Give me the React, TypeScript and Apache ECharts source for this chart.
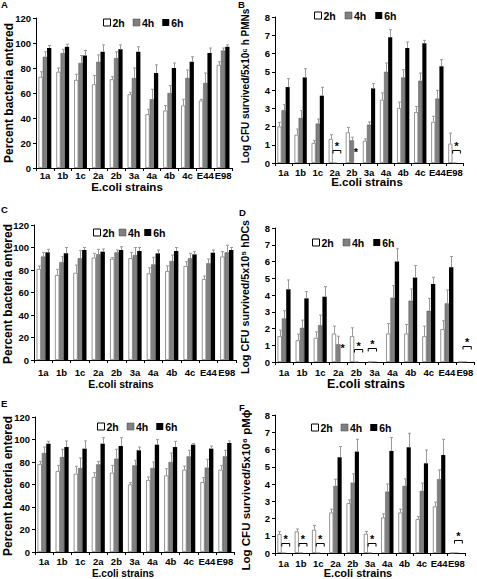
import React, { useEffect, useRef } from 'react';
import * as echarts from 'echarts';

const strains = ['1a', '1b', '1c', '2a', '2b', '3a', '4a', '4b', '4c', 'E44', 'E98'];
const timePoints = ['2h', '4h', '6h'];

// Panel A – Percent bacteria entered (mean and upper end of error bar)
const aMean2h = [73, 77, 70.5, 67, 71, 59, 43, 46, 50, 54, 82.5];
const aMean4h = [89, 92, 84, 85, 88, 72, 55, 60, 72, 68, 94];
const aMean6h = [96, 97, 90, 93, 95, 93, 76, 80, 85, 92, 97];
const aUpper2h = [77, 80, 75, 74, 73, 60.5, 47, 50, 55, 55, 85];
const aUpper4h = [93, 95, 90, 90.5, 93, 80, 63, 66, 78.5, 76, 96];
const aUpper6h = [98, 99, 94, 98.5, 98.5, 97, 82.5, 84, 89, 96, 98.5];

// Panel B – Log CFU survived / 5x10^6 h PMNs
const bMean2h = [2.0, 1.55, 1.1, 1.32, 1.68, 1.22, 3.47, 3.01, 2.79, 2.26, 1.06];
const bMean4h = [2.89, 2.47, 2.16, 0, 1.24, 2.1, 5.0, 4.69, 4.51, 3.53, 0];
const bMean6h = [4.16, 4.69, 3.69, 0, 0, 4.09, 6.89, 6.3, 6.56, 5.3, 0];
const bUpper2h = [2.23, 1.86, 1.24, 1.55, 1.95, 1.32, 3.84, 3.34, 3.1, 2.56, 1.64];
const bUpper4h = [3.2, 2.87, 2.41, null, 1.41, 2.25, 5.48, 5.11, 4.93, 3.98, null];
const bUpper6h = [4.62, 5.17, 4.15, null, null, 4.35, 7.3, 6.63, 6.72, 5.66, null];
// significance marks: [strain index, first slot, last slot, bracket height (-1 = none), star height]
const bSig = [[3, 1, 2, 0.7, 1.08], [4, 2, 2, -1, 0.77], [10, 1, 2, 0.7, 1.08]];

// Panel C – Percent bacteria entered
const cMean2h = [81, 75.5, 77.5, 91, 90, 90.5, 77, 79, 83.5, 72, 92];
const cMean4h = [92, 87, 90.5, 94, 95.7, 93.3, 85, 88, 90.4, 86, 95.7];
const cMean6h = [95.7, 94.8, 97.8, 96.3, 97.8, 96.9, 94.8, 96.9, 93.9, 95.4, 97.8];
const cUpper2h = [83.6, 80.6, 84.4, 94.8, 91, 95.7, 82, 83.6, 87.4, 74.7, 96.3];
const cUpper4h = [95.7, 91.9, 97.2, 98.4, 97.8, 100, 91.3, 93.3, 94.8, 89.8, 102];
const cUpper6h = [98.4, 100, 100, 98.7, 100.7, 100, 97.8, 100, 96.3, 97.8, 100];

// Panel D – Log CFU survived / 5x10^5 hDCs
const dMean2h = [1.54, 1.3, 1.44, 1.7, 1.54, 0, 1.7, 1.7, 1.54, 1.96, 0];
const dMean4h = [2.6, 2.04, 2.2, 1.06, 0, 0, 3.84, 3.66, 3.06, 3.5, 0];
const dMean6h = [4.34, 3.8, 3.9, 0, 0, 0, 6.0, 5.04, 4.66, 5.66, 0];
const dUpper2h = [1.9, 1.66, 1.8, 2.14, 2.04, null, 2.3, 2.24, 2.14, 2.46, null];
const dUpper4h = [3.06, 2.5, 2.8, 1.54, null, null, 4.56, 4.36, 3.8, 4.3, null];
const dUpper6h = [4.9, 4.2, 4.5, null, null, null, 6.76, 5.76, 5.06, 6.3, null];
const dSig = [[3, 2, 2, -1, 1.0], [4, 1, 2, 0.76, 1.15], [5, 0, 1, 0.82, 1.27], [10, 1, 2, 0.95, 1.35]];

// Panel E – Percent bacteria entered
const eMean2h = [78.2, 72, 69.6, 66.7, 70.5, 60.1, 64, 68.1, 73.2, 62.2, 73.2];
const eMean4h = [88, 84.4, 74.7, 77.9, 83, 77, 74.7, 80, 85, 75, 85];
const eMean6h = [96.3, 93.3, 91.9, 96.3, 94.2, 90.4, 95.4, 93.3, 95.4, 91.9, 96.9];
const eUpper2h = [80.6, 77, 76.1, 70.5, 77, 61.6, 66.7, 74, 76.4, 66.1, 77];
const eUpper4h = [93.3, 91.3, 83.6, 80.6, 91.3, 81.5, 80, 88, 90.4, 82.4, 90.4];
const eUpper6h = [98.4, 98.7, 98.7, 101.6, 101.6, 93.3, 99.9, 98.4, 96.3, 94.2, 98.7];

// Panel F – Log CFU survived / 5x10^6 pMϕ
const fMean2h = [1.1, 1.25, 1.35, 2.35, 2.89, 1.12, 2.06, 2.35, 1.97, 2.7, 0];
const fMean4h = [0, 0, 0, 3.89, 4.08, 0, 3.56, 3.89, 3.6, 4.28, 0];
const fMean6h = [0, 0, 0, 5.55, 5.88, 0, 5.92, 6.13, 5.2, 5.68, 0];
const fUpper2h = [1.25, 1.39, 1.6, 2.54, 3.08, 1.25, 2.27, 2.54, 2.12, 2.95, null];
const fUpper4h = [null, null, null, 4.28, 4.59, null, 4.0, 4.3, 4.05, 4.82, null];
const fUpper6h = [null, null, null, 6.17, 6.59, null, 6.69, 6.94, 5.97, 6.59, null];
const fSig = [[0, 1, 2, 0.58, 0.96], [1, 1, 2, 0.58, 0.96], [2, 1, 2, 0.58, 0.96], [5, 1, 2, 0.58, 0.96], [10, 1, 2, 0.77, 1.15]];

const FONT = '"Liberation Sans", Arial, Helvetica, sans-serif';
const BAR_FRAC = 0.24;
const ERR = '#9a9a9a';

type Panel = {
  letter: string;
  means: number[][];
  uppers: (number | null)[][];
  sig: number[][];
  max: number;
  interval: number;
  yName: string;
  grid: { left: number; top: number; width: number; height: number };
  labelMargin: number;
  legend: { left: number; top: number; gap: number };
  letterPos: [number, number];
  yNamePos: [number, number, number];
  xNamePos: [number, number, number];
};

const panels: Panel[] = [
  {
    letter: 'A', means: [aMean2h, aMean4h, aMean6h], uppers: [aUpper2h, aUpper4h, aUpper6h], sig: [],
    max: 120, interval: 20, yName: 'Percent bacteria entered',
    grid: { left: 36, top: 18, width: 196, height: 150 }, labelMargin: 2,
    legend: { left: 103, top: 17, gap: 8 }, letterPos: [1, 4.5], yNamePos: [8.5, 93, 12], xNamePos: [127, 187, 11.5],
  },
  {
    letter: 'B', means: [bMean2h, bMean4h, bMean6h], uppers: [bUpper2h, bUpper4h, bUpper6h], sig: bSig,
    max: 8, interval: 1, yName: 'Log CFU survived/5x10\u2076 h PMNs',
    grid: { left: 275, top: 17, width: 188, height: 146 }, labelMargin: 4,
    legend: { left: 314, top: 10, gap: 9 }, letterPos: [238, 4.5], yNamePos: [245, 86, 10], xNamePos: [367, 182, 11.5],
  },
  {
    letter: 'C', means: [cMean2h, cMean4h, cMean6h], uppers: [cUpper2h, cUpper4h, cUpper6h], sig: [],
    max: 120, interval: 20, yName: 'Percent bacteria entered',
    grid: { left: 34, top: 225, width: 202, height: 135 }, labelMargin: 7,
    legend: { left: 93, top: 227, gap: 4 }, letterPos: [1, 209], yNamePos: [8, 294, 12], xNamePos: [121, 384, 10.5],
  },
  {
    letter: 'D', means: [dMean2h, dMean4h, dMean6h], uppers: [dUpper2h, dUpper4h, dUpper6h], sig: dSig,
    max: 8, interval: 1, yName: 'Log CFU survived/5x10\u2075 hDCs',
    grid: { left: 275, top: 228, width: 199, height: 134 }, labelMargin: 5,
    legend: { left: 312, top: 237, gap: 9 }, letterPos: [239, 212], yNamePos: [245, 297, 10.7], xNamePos: [366, 384, 12.5],
  },
  {
    letter: 'E', means: [eMean2h, eMean4h, eMean6h], uppers: [eUpper2h, eUpper4h, eUpper6h], sig: [],
    max: 120, interval: 20, yName: 'Percent bacteria entered',
    grid: { left: 35, top: 417, width: 199, height: 135 }, labelMargin: 4,
    legend: { left: 97, top: 421, gap: 8 }, letterPos: [1, 403], yNamePos: [8, 486, 12], xNamePos: [123, 573.5, 10],
  },
  {
    letter: 'F', means: [fMean2h, fMean4h, fMean6h], uppers: [fUpper2h, fUpper4h, fUpper6h], sig: fSig,
    max: 8, interval: 1, yName: 'Log CFU survived/5x10\u2076 pM\u03d5',
    grid: { left: 275, top: 415, width: 190, height: 138 }, labelMargin: 5,
    legend: { left: 311, top: 422, gap: 8 }, letterPos: [239, 407], yNamePos: [245.5, 490, 11.5], xNamePos: [358, 573, 11],
  },
];

const barStyles = [
  { color: '#ffffff', borderColor: '#7a7a7a', borderWidth: 0.8 },
  { color: '#808080', borderColor: '#555555', borderWidth: 0.5 },
  { color: '#000000', borderColor: '#000000', borderWidth: 0 },
];
const legendStyles = [
  { color: '#ffffff', borderColor: '#000000', borderWidth: 1 },
  { color: '#808080', borderColor: '#404040', borderWidth: 0.5 },
  { color: '#000000', borderColor: '#000000', borderWidth: 0 },
];

function buildOption() {
  const grid: any[] = [];
  const xAxis: any[] = [];
  const yAxis: any[] = [];
  const series: any[] = [];
  const legend: any[] = [];
  const graphic: any[] = [];

  panels.forEach((p, gi) => {
    grid.push({ ...p.grid, containLabel: false, outerBoundsMode: 'none' });
    xAxis.push({
      type: 'category', gridIndex: gi, data: strains, boundaryGap: true,
      axisLine: { show: true, lineStyle: { color: '#000', width: 1 } },
      axisTick: { show: true, length: 3, lineStyle: { color: '#000' } },
      axisLabel: { interval: 0, margin: p.labelMargin, fontSize: 9.5, fontWeight: 'bold', color: '#000', fontFamily: FONT },
      splitLine: { show: false },
    });
    yAxis.push({
      type: 'value', gridIndex: gi, min: 0, max: p.max, interval: p.interval,
      axisLine: { show: true, lineStyle: { color: '#000', width: 1 } },
      axisTick: { show: true, length: 3, lineStyle: { color: '#000' } },
      axisLabel: { margin: 5, fontSize: 9.5, fontWeight: 'bold', color: '#000', fontFamily: FONT },
      splitLine: { show: false },
    });
    timePoints.forEach((t, s) => {
      series.push({
        type: 'bar', name: t, xAxisIndex: gi, yAxisIndex: gi, data: p.means[s],
        barGap: '0%', barCategoryGap: '28%', itemStyle: barStyles[s], silent: true,
      });
    });
    const errData: number[][] = [];
    for (let s = 0; s < 3; s++) {
      for (let i = 0; i < strains.length; i++) {
        const u = p.uppers[s][i];
        if (u != null) errData.push([i, s, p.means[s][i], u]);
      }
    }
    series.push({
      type: 'custom', xAxisIndex: gi, yAxisIndex: gi, data: errData, z: 5, silent: true,
      encode: { x: 0, y: 3 },
      renderItem: (_params: any, api: any) => {
        const i = api.value(0);
        const s = api.value(1);
        const base = api.coord([i, api.value(2)]);
        const top = api.coord([i, api.value(3)]);
        const bw = api.size([1, 0])[0] * BAR_FRAC;
        const x = Math.round(base[0] + (s - 1) * bw) + 0.5;
        return {
          type: 'group',
          children: [
            { type: 'line', shape: { x1: x, y1: base[1], x2: x, y2: top[1] }, style: { stroke: ERR, lineWidth: 1 } },
            { type: 'line', shape: { x1: x - 1.5, y1: top[1], x2: x + 1.5, y2: top[1] }, style: { stroke: ERR, lineWidth: 1 } },
          ],
        };
      },
    });
    if (p.sig.length) {
      series.push({
        type: 'custom', xAxisIndex: gi, yAxisIndex: gi, data: p.sig, z: 6, silent: true,
        encode: { x: 0, y: 4 },
        renderItem: (_params: any, api: any) => {
          const i = api.value(0);
          const s0 = api.value(1);
          const s1 = api.value(2);
          const by = api.value(3);
          const sy = api.value(4);
          const bw = api.size([1, 0])[0] * BAR_FRAC;
          const c = api.coord([i, sy]);
          const x0 = c[0] + (s0 - 1) * bw - bw * 0.45;
          const x1 = c[0] + (s1 - 1) * bw + bw * 0.45;
          const children: any[] = [
            {
              type: 'text', x: (x0 + x1) / 2, y: c[1] + 3,
              style: { text: '*', font: `bold 11px ${FONT}`, textAlign: 'center', textVerticalAlign: 'middle', fill: '#000' },
            },
          ];
          if (by >= 0) {
            const yb = Math.round(api.coord([i, by])[1]) + 0.5;
            children.push({
              type: 'polyline',
              shape: { points: [[x0, yb + 3], [x0, yb], [x1, yb], [x1, yb + 3]] },
              style: { stroke: '#000', lineWidth: 1, fill: null },
            });
          }
          return { type: 'group', children };
        },
      });
    }
    legend.push({
      left: p.legend.left, top: p.legend.top, itemGap: p.legend.gap, itemWidth: 7, itemHeight: 7,
      padding: 0, selectedMode: false, icon: 'rect',
      data: timePoints.map((t, s) => ({ name: t, icon: 'rect', itemStyle: legendStyles[s] })),
      textStyle: { fontSize: 10.5, fontWeight: 'bold', color: '#000', fontFamily: FONT, padding: [0, 0, 0, -3] },
    });
    graphic.push({
      type: 'text', x: p.letterPos[0], y: p.letterPos[1],
      style: { text: p.letter, font: `bold 9.5px ${FONT}`, textAlign: 'left', textVerticalAlign: 'middle', fill: '#000' },
    });
    graphic.push({
      type: 'text', x: p.yNamePos[0], y: p.yNamePos[1], rotation: Math.PI / 2,
      style: { text: p.yName, font: `bold ${p.yNamePos[2]}px ${FONT}`, textAlign: 'center', textVerticalAlign: 'middle', fill: '#000' },
    });
    graphic.push({
      type: 'text', x: p.xNamePos[0], y: p.xNamePos[1],
      style: { text: 'E.coli strains', font: `bold ${p.xNamePos[2]}px ${FONT}`, textAlign: 'center', textVerticalAlign: 'middle', fill: '#000' },
    });
  });

  return { animation: false, backgroundColor: '#ffffff', grid, xAxis, yAxis, series, legend, graphic };
}

export default function App() {
  const ref = useRef<HTMLDivElement>(null);
  useEffect(() => {
    if (!ref.current) return;
    const chart = echarts.init(ref.current, undefined, { renderer: 'svg' });
    chart.setOption(buildOption() as any);
    return () => chart.dispose();
  }, []);
  return <div ref={ref} style={{ position: 'absolute', left: 0, top: 0, width: 477, height: 579 }} />;
}
